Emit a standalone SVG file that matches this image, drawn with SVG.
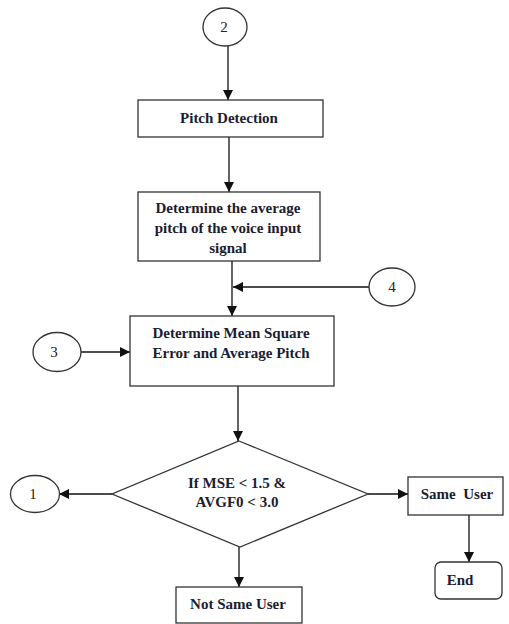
<svg xmlns="http://www.w3.org/2000/svg" width="509" height="624" viewBox="0 0 509 624">
<defs>
<marker id="ah" markerWidth="10" markerHeight="10" refX="10" refY="5" orient="auto" markerUnits="userSpaceOnUse">
<path d="M0,0 L10,5 L0,10 Z" fill="#111"/>
</marker>
<style>
.box{fill:#fff;stroke:#333;stroke-width:1.3}
.t{font-family:'Liberation Serif','Times New Roman',serif;font-weight:bold;font-size:15px;fill:#1c1c30;text-anchor:middle}
.n{font-family:'Liberation Serif','Times New Roman',serif;font-size:15px;fill:#2a2020;text-anchor:middle}
.c{fill:none;stroke:#111;stroke-width:1.3}
</style>
</defs>
<rect width="509" height="624" fill="#fff"/>
<g id="connectors">
<line class="c" x1="228" y1="46" x2="228" y2="100" marker-end="url(#ah)"/>
<line class="c" x1="229" y1="137" x2="229" y2="192" marker-end="url(#ah)"/>
<line class="c" x1="232" y1="261" x2="232" y2="316" marker-end="url(#ah)"/>
<line class="c" x1="369" y1="287" x2="233" y2="287" marker-end="url(#ah)"/>
<line class="c" x1="81" y1="352" x2="130" y2="352" marker-end="url(#ah)"/>
<line class="c" x1="238" y1="386" x2="238" y2="441" marker-end="url(#ah)"/>
<line class="c" x1="112" y1="494" x2="59" y2="494" marker-end="url(#ah)"/>
<line class="c" x1="368" y1="494" x2="408" y2="494" marker-end="url(#ah)"/>
<line class="c" x1="239" y1="547" x2="239" y2="587" marker-end="url(#ah)"/>
<line class="c" x1="469" y1="515" x2="469" y2="562" marker-end="url(#ah)"/>
</g>
<g id="c2"><ellipse class="box" cx="225" cy="27" rx="22" ry="19"/><text class="n" x="224" y="32">2</text></g>
<g id="pitch"><rect class="box" x="138" y="100" width="185" height="37"/><text class="t" x="229" y="123">Pitch Detection</text></g>
<g id="avg"><rect class="box" x="138" y="192" width="182" height="69"/>
<text class="t" x="228" y="213">Determine the average</text>
<text class="t" x="228" y="233">pitch of the voice input</text>
<text class="t" x="228" y="253">signal</text></g>
<g id="c4"><ellipse class="box" cx="392" cy="287" rx="23" ry="19"/><text class="n" x="392" y="292">4</text></g>
<g id="mse"><rect class="box" x="130" y="316" width="204" height="70"/>
<text class="t" x="231" y="338">Determine Mean Square</text>
<text class="t" x="231" y="358">Error and Average Pitch</text></g>
<g id="c3"><ellipse class="box" cx="57" cy="352" rx="24" ry="19.5"/><text class="n" x="54" y="357">3</text></g>
<g id="dec"><polygon class="box" points="239,441 368,494 240,547 112,494"/>
<text class="t" x="237" y="488">If MSE &lt; 1.5 &amp;</text>
<text class="t" x="237" y="507">AVGF0 &lt; 3.0</text></g>
<g id="c1"><ellipse class="box" cx="35" cy="494" rx="24.5" ry="18.5"/><text class="n" x="33" y="499">1</text></g>
<g id="same"><rect class="box" x="408" y="477" width="95" height="38"/><text class="t" x="457" y="499" xml:space="preserve">Same  User</text></g>
<g id="end"><rect class="box" x="435" y="562" width="67" height="37" rx="6"/><text class="t" x="460" y="585">End</text></g>
<g id="notsame"><rect class="box" x="176" y="587" width="126" height="36"/><text class="t" x="238" y="609">Not Same User</text></g>
</svg>
